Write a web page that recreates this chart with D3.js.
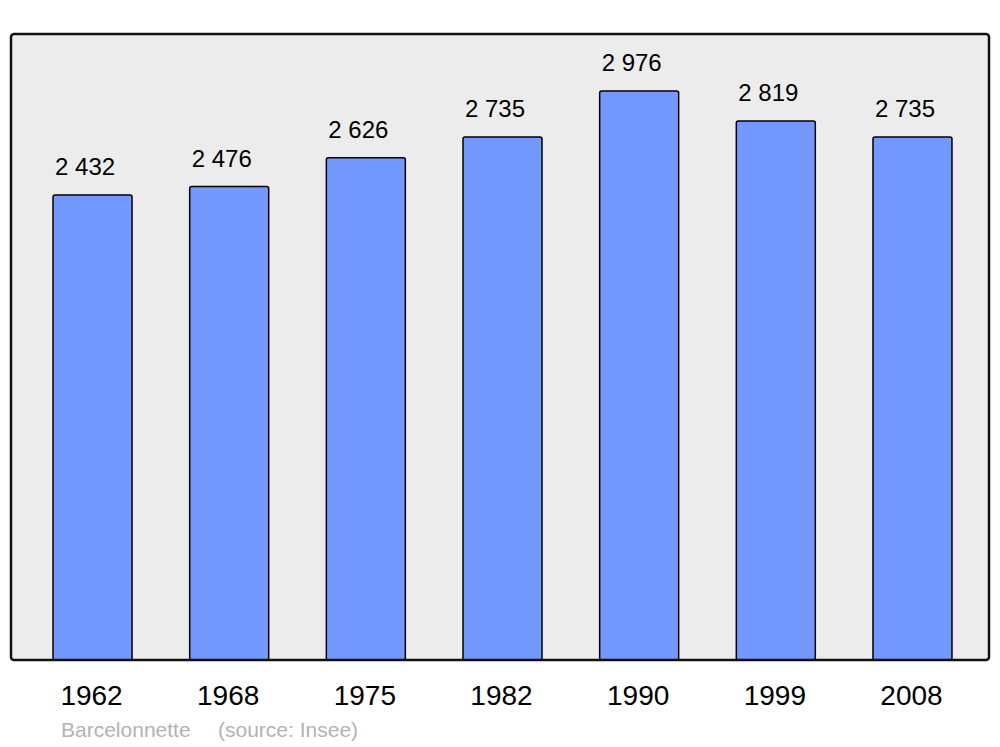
<!DOCTYPE html>
<html><head><meta charset="utf-8">
<script src="https://cdn.jsdelivr.net/npm/d3@7"></script>
<style>body{margin:0;background:#fff}svg{display:block}</style>
</head><body>
<svg id="c" width="1000" height="747"></svg>
<script>
const years = ["1962","1968","1975","1982","1990","1999","2008"];
const population = [2432,2476,2626,2735,2976,2819,2735];
const commune = "Barcelonnette";
const sourceText = "(source: Insee)";

const svg = d3.select("#c");
const panel = {x0:11, x1:989, y0:34, y1:660};
const fmt = v => d3.format(",")(v).replace(/,/g, " ");

svg.append("rect")
  .attr("x", panel.x0).attr("y", panel.y0)
  .attr("width", panel.x1 - panel.x0).attr("height", panel.y1 - panel.y0)
  .attr("rx", 3).attr("fill", "#ececec");

const x = d3.scaleBand().domain(years).range([24.2, 980.8]).paddingInner(0.422).paddingOuter(0.211);
const y = d3.scaleLinear().domain([0, d3.max(population) * 1.1]).range([panel.y1, panel.y0]);

const g = svg.append("g");
g.selectAll("rect.bar").data(years).join("rect")
  .attr("class", "bar")
  .attr("x", d => x(d)).attr("y", (d, i) => y(population[i]))
  .attr("width", x.bandwidth()).attr("height", (d, i) => y(0) - y(population[i]))
  .attr("rx", 2)
  .attr("fill", "#7399ff").attr("stroke", "#000").attr("stroke-width", 1.5);

g.selectAll("text.val").data(years).join("text")
  .attr("class", "val")
  .attr("x", d => x(d) + 2).attr("y", (d, i) => y(population[i]) - 19.5)
  .attr("font-family", "Liberation Sans, Arial, sans-serif").attr("font-size", 24)
  .attr("fill", "#000")
  .text((d, i) => fmt(population[i]));

svg.append("rect")
  .attr("x", panel.x0).attr("y", panel.y0)
  .attr("width", panel.x1 - panel.x0).attr("height", panel.y1 - panel.y0)
  .attr("rx", 3).attr("fill", "none").attr("stroke", "#111").attr("stroke-width", 2.5);

const xAxis = d3.axisBottom(x).tickSize(0).tickPadding(0);
const ax = svg.append("g").attr("transform", `translate(0,${panel.y1})`).call(xAxis);
ax.select(".domain").remove();
ax.selectAll("text")
  .attr("font-family", "Liberation Sans, Arial, sans-serif").attr("font-size", 28)
  .attr("fill", "#000").attr("dy", null).attr("y", 45).attr("dx", -1);

svg.append("text").attr("x", 61).attr("y", 737)
  .attr("font-family", "Liberation Sans, Arial, sans-serif").attr("font-size", 21)
  .attr("fill", "#b3b3b3")
  .text(commune);
svg.append("text").attr("x", 218).attr("y", 737)
  .attr("font-family", "Liberation Sans, Arial, sans-serif").attr("font-size", 21)
  .attr("fill", "#b3b3b3")
  .text(sourceText);
</script>
</body></html>
